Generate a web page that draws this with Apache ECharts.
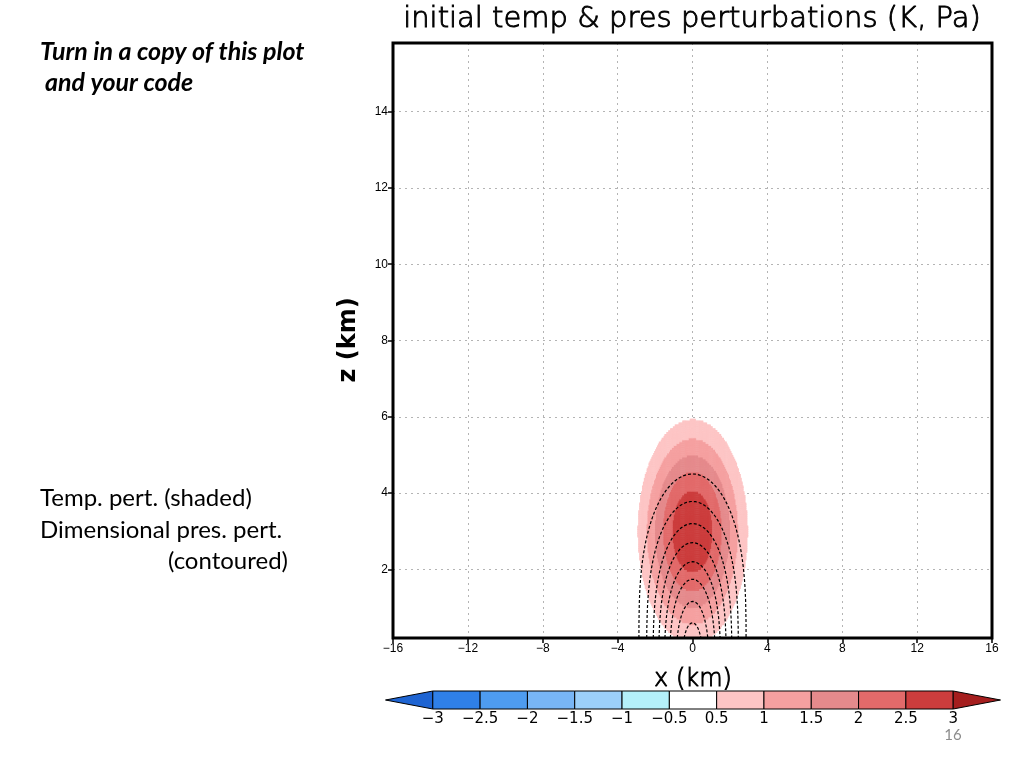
<!DOCTYPE html>
<html>
<head>
<meta charset="utf-8">
<script src="https://cdn.jsdelivr.net/npm/echarts@6/dist/echarts.min.js"></script>
<style>
html,body{margin:0;padding:0;background:#fff;}
#chart{width:1024px;height:768px;}
</style>
</head>
<body>
<div id="chart"></div>
<script>
// ---------------- data ----------------
const xRange = [-16, 16];
const zRange = [0.2, 15.8];
const xTicks = [-16, -12, -8, -4, 0, 4, 8, 12, 16];
const zTicks = [2, 4, 6, 8, 10, 12, 14];

// warm bubble (temperature perturbation, K)
const bubbleAmplitude = 3;
const bubbleRadiusX = 4;     // km
const bubbleRadiusZ = 4;     // km
const bubbleCenterX = 0;     // km
const bubbleCenterZ = 3;     // km

// shading intervals (K) and colours
const shadeLevels = [0.5, 1, 1.5, 2, 2.5, 3];
const shadeColors = ['#fdc5c5', '#f5a0a0', '#e58a8c', '#e26a6a', '#cc3d3d'];

// pressure perturbation contours: height (km) where each dashed contour crosses x = 0
const contourCenterZ = [4.5, 3.78, 3.2, 2.7, 2.2, 1.74, 1.16, 0.6];

// colour bar
const barLabels = ['-3', '-2.5', '-2', '-1.5', '-1', '-0.5', '0.5', '1', '1.5', '2', '2.5', '3'];
const barColors = ['#1e64d2', '#2f80e8', '#4e9cf0', '#78b6f6', '#9cd0fa', '#b4f0fa', '#ffffff',
                   '#fdc5c5', '#f5a0a0', '#e58a8c', '#e26a6a', '#cc3d3d', '#a51e1e'];

// ---------------- field ----------------
function theta(x, z) {
  const r = Math.sqrt(Math.pow((x - bubbleCenterX) / bubbleRadiusX, 2) +
                      Math.pow((z - bubbleCenterZ) / bubbleRadiusZ, 2));
  if (r >= 1) return 0;
  const c = Math.cos(Math.PI * r / 2);
  return bubbleAmplitude * c * c;
}
const theta0 = 300, g = 9.81, cp = 1004, Rd = 287;
function rho(zkm) {
  const pi = 1 - g * zkm * 1000 / (cp * theta0);
  const p = 1e5 * Math.pow(pi, cp / Rd);
  return p / (Rd * theta0 * pi);
}

// shaded cells
const dxc = 0.05, dzc = 0.05;
const shadeCells = [];
for (let x = -4.5 + dxc / 2; x < 4.5; x += dxc) {
  for (let z = zRange[0] + dzc / 2; z < 7.5; z += dzc) {
    const v = theta(x, z);
    let k = -1;
    for (let i = 0; i < shadeLevels.length - 1; i++) if (v >= shadeLevels[i]) k = i;
    if (k >= 0) shadeCells.push([x, z, k]);
  }
}

// hydrostatic pressure perturbation
const dxp = 0.02, dzp = 0.02;
const px = [], pz = [];
for (let i = 0; i <= 420; i++) px.push(+(-4.2 + i * dxp).toFixed(4));
for (let j = 0; j <= 390; j++) pz.push(+(zRange[0] + j * dzp).toFixed(4));
const P = px.map(x => {
  const col = new Array(pz.length).fill(0);
  for (let j = pz.length - 2; j >= 0; j--) {
    const a = rho(pz[j]) * theta(x, pz[j]);
    const b = rho(pz[j + 1]) * theta(x, pz[j + 1]);
    col[j] = col[j + 1] - g / theta0 * 0.5 * (a + b) * dzp * 1000;
  }
  return col;
});
function pAtCenter(z) {
  const i0 = px.indexOf(0);
  const col = P[i0];
  const f = (z - pz[0]) / dzp;
  const j = Math.max(0, Math.min(pz.length - 2, Math.floor(f)));
  const t = f - j;
  return col[j] * (1 - t) + col[j + 1] * t;
}
const contourLevels = contourCenterZ.map(pAtCenter);

function contourLine(c) {
  const pts = [];
  for (let i = 0; i < px.length; i++) {
    const col = P[i];
    if (i > 0) {
      const a = P[i - 1][0], b = col[0];
      if ((a > c) !== (b > c)) {
        const t = (c - a) / (b - a);
        pts.push([px[i - 1] + t * (px[i] - px[i - 1]), zRange[0]]);
      }
    }
    if (col[0] <= c) {
      let j = 0;
      while (j < pz.length - 1 && col[j + 1] <= c) j++;
      const a = col[j], b = col[j + 1];
      const t = (c - a) / (b - a);
      pts.push([px[i], pz[j] + t * (pz[j + 1] - pz[j])]);
    }
  }
  return pts;
}

const contourSeries = contourLevels.map(c => ({
  type: 'line',
  xAxisIndex: 0, yAxisIndex: 0,
  data: contourLine(c),
  showSymbol: false, symbol: 'none',
  smooth: false, clip: true, silent: true,
  lineStyle: { color: '#000', width: 1.2, type: [3, 2] },
  z: 5
}));

// ---------------- chart ----------------
const minus = s => String(s).replace('-', '\u2212');
const labelFont = { fontFamily: 'Liberation Sans', fontSize: 12, color: '#000' };

const chart = echarts.init(document.getElementById('chart'));
chart.setOption({
  animation: false,
  backgroundColor: '#fff',
  grid: [
    { left: 393, right: 32, top: 43, bottom: 130, show: true, borderColor: '#000', borderWidth: 3, z: 10 },
    { left: 385.5, width: 615, top: 691, height: 18 }
  ],
  xAxis: [{
    type: 'value', gridIndex: 0, min: xRange[0], max: xRange[1], interval: 4,
    axisLine: { show: false, onZero: false },
    axisTick: { show: true, length: 5, inside: false, lineStyle: { color: '#000', width: 1.5 } },
    axisLabel: Object.assign({ margin: 5, formatter: v => minus(v) }, labelFont),
    splitLine: { show: true, lineStyle: { color: '#b4b4b4', width: 1, type: [2, 4] } }
  }, {
    type: 'value', gridIndex: 1, min: -1, max: 12,
    axisLine: { show: false, onZero: false }, axisTick: { show: false },
    splitLine: { show: false },
    axisLabel: {
      customValues: [0, 1, 2, 3, 4, 5, 6, 7, 8, 9, 10, 11],
      formatter: v => minus(barLabels[Math.round(v)]),
      fontFamily: 'DejaVu Sans', fontSize: 15, color: '#000', margin: 3
    }
  }],
  yAxis: [{
    type: 'value', gridIndex: 0, min: zRange[0], max: zRange[1],
    axisLine: { show: false, onZero: false },
    axisTick: { show: true, length: 5, customValues: zTicks, lineStyle: { color: '#000', width: 1.5 } },
    axisLabel: Object.assign({ margin: 5, customValues: zTicks }, labelFont),
    splitLine: { show: true, lineStyle: { color: '#b4b4b4', width: 1, type: [2, 4] } }
  }, {
    type: 'value', gridIndex: 1, min: 0, max: 1, show: false
  }],
  graphic: [
    { type: 'text', x: 692, y: 19, style: { text: 'initial temp & pres perturbations (K, Pa)', font: '200 29px "DejaVu Sans"', fill: '#000', stroke: '#000', lineWidth: 0.9, textAlign: 'center', textVerticalAlign: 'middle' } },
    { type: 'text', x: 693, y: 680, style: { text: 'x (km)', font: '200 24px "DejaVu Sans"', fill: '#000', stroke: '#000', lineWidth: 0.9, textAlign: 'center', textVerticalAlign: 'middle' } },
    { type: 'text', x: 349, y: 340, rotation: Math.PI / 2, style: { text: 'z (km)', font: 'bold 24px "DejaVu Sans"', fill: '#000', textAlign: 'center', textVerticalAlign: 'middle' } },
    { type: 'text', x: 40, y: 52, style: { text: 'Turn in a copy of this plot', font: 'italic bold 25px Lato', fill: '#000', textVerticalAlign: 'middle' } },
    { type: 'text', x: 45, y: 83, style: { text: 'and your code', font: 'italic bold 25px Lato', fill: '#000', textVerticalAlign: 'middle' } },
    { type: 'text', x: 40, y: 498, style: { text: 'Temp. pert. (shaded)', font: '24px Lato', fill: '#000', textVerticalAlign: 'middle' } },
    { type: 'text', x: 40, y: 530, style: { text: 'Dimensional pres. pert.', font: '24px Lato', fill: '#000', textVerticalAlign: 'middle' } },
    { type: 'text', x: 288, y: 561, style: { text: '(contoured)', font: '24px Lato', fill: '#000', textAlign: 'right', textVerticalAlign: 'middle' } },
    { type: 'text', x: 953, y: 735, style: { text: '16', font: '15px Lato', fill: '#8c8c8c', textAlign: 'center', textVerticalAlign: 'middle' } }
  ],
  series: [{
    type: 'custom',
    xAxisIndex: 0, yAxisIndex: 0,
    clip: true, silent: true,
    data: shadeCells,
    renderItem: function (params, api) {
      const x = api.value(0), z = api.value(1), k = api.value(2);
      const p1 = api.coord([x - dxc / 2, z + dzc / 2]);
      const p2 = api.coord([x + dxc / 2, z - dzc / 2]);
      return {
        type: 'rect',
        shape: { x: p1[0], y: p1[1], width: p2[0] - p1[0] + 0.6, height: p2[1] - p1[1] + 0.6 },
        style: { fill: shadeColors[k] }
      };
    },
    z: 2
  }].concat(contourSeries).concat([{
    type: 'custom',
    xAxisIndex: 1, yAxisIndex: 1,
    silent: true, clip: false,
    data: barColors.map((c, i) => [i - 1, i]),
    renderItem: function (params, api) {
      const i = api.value(1);
      const x0 = api.value(0);
      const tl = api.coord([x0, 1]), br = api.coord([x0 + 1, 0]);
      const style = { fill: barColors[i], stroke: '#000', lineWidth: 1 };
      if (i === 0) {
        const mid = api.coord([x0, 0.5]);
        return { type: 'polygon', shape: { points: [[br[0], tl[1]], [br[0], br[1]], [mid[0], mid[1]]] }, style: style };
      }
      if (i === barColors.length - 1) {
        const mid = api.coord([x0 + 1, 0.5]);
        return { type: 'polygon', shape: { points: [[tl[0], tl[1]], [tl[0], br[1]], [mid[0], mid[1]]] }, style: style };
      }
      return { type: 'rect', shape: { x: tl[0], y: tl[1], width: br[0] - tl[0], height: br[1] - tl[1] }, style: style };
    }
  }])
});
</script>
</body>
</html>
